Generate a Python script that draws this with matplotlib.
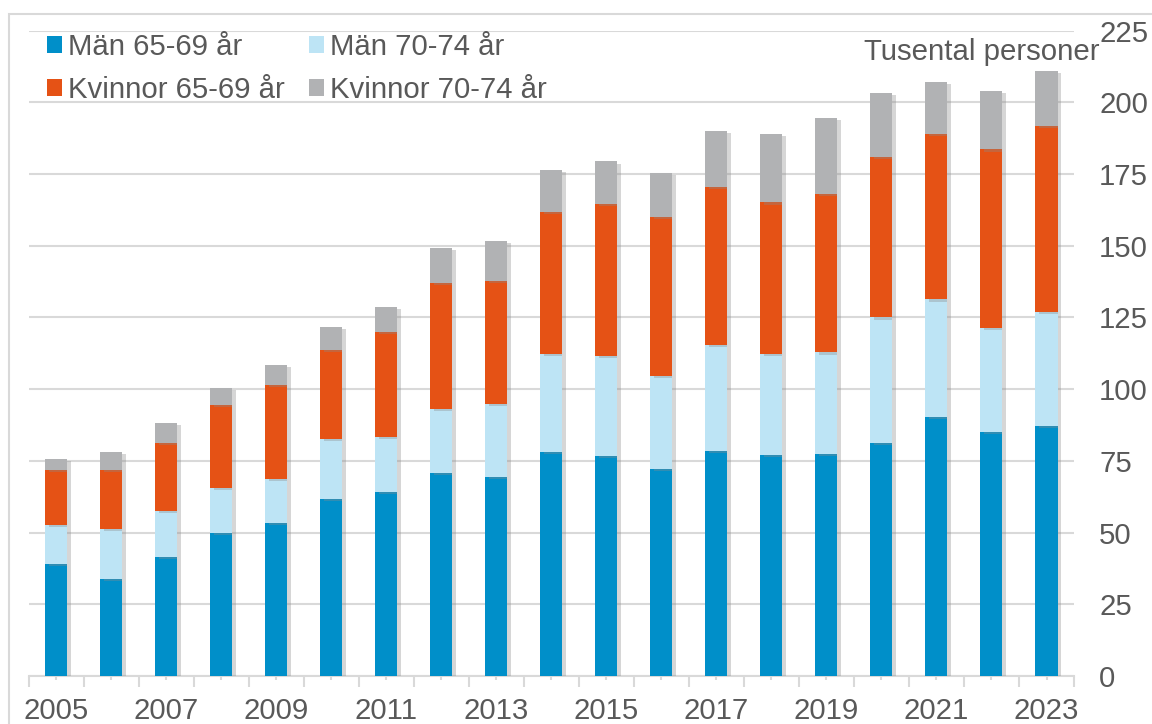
import matplotlib
matplotlib.use("Agg")
import matplotlib.pyplot as plt
import matplotlib.patheffects as pe
from matplotlib.patches import Patch
import numpy as np

years = list(range(2005, 2024))

# tusental personer
man_65_69 = [39.0, 33.8, 41.5, 49.8, 53.3, 61.6, 64.3, 70.9, 69.3, 78.1,
             76.8, 72.3, 78.6, 77.2, 77.3, 81.2, 90.2, 85.0, 87.3]
man_70_74 = [13.7, 17.5, 16.1, 15.8, 15.4, 20.9, 19.1, 22.3, 25.5, 34.3,
             34.7, 32.3, 36.9, 35.2, 35.5, 43.8, 41.1, 36.3, 39.7]
kv_65_69 = [19.0, 20.7, 23.8, 28.9, 32.7, 31.3, 36.6, 43.9, 43.0, 49.4,
            53.0, 55.5, 55.1, 52.7, 55.4, 56.1, 57.7, 62.3, 64.7]
kv_70_74 = [4.0, 6.1, 6.7, 6.0, 7.2, 7.8, 8.7, 12.2, 13.9, 14.8,
            14.9, 15.3, 19.4, 23.8, 26.3, 22.2, 18.1, 20.4, 19.3]

labels = ["Män 65-69 år", "Män 70-74 år", "Kvinnor 65-69 år", "Kvinnor 70-74 år"]
colors = ["#008FC9", "#BDE4F5", "#E55215", "#B1B2B4"]

plt.rcParams['font.family'] = ['Liberation Sans', 'DejaVu Sans']
txt_col = "#595959"
fs = 21.2

fig = plt.figure(figsize=(11.52, 7.24), dpi=100)
ax = fig.add_axes([0.0249, 0.0663, 0.9074, 0.8913])

x = np.arange(len(years))
series = [man_65_69, man_70_74, kv_65_69, kv_70_74]
bottom = np.zeros(len(years))
shadow = [pe.SimplePatchShadow(offset=(2.5, -1.5), shadow_rgbFace="#8a8a8a", alpha=0.35), pe.Normal()]
for vals, lab, col in zip(series, labels, colors):
    bars = ax.bar(x, vals, 0.4, bottom=bottom, color=col, zorder=3)
    for b in bars:
        b.set_path_effects(shadow)
    bottom += np.array(vals)

ax.set_xlim(-0.5, len(years) - 0.5)
ax.set_ylim(0, 225)
ax.yaxis.tick_right()
ax.set_yticks(np.arange(0, 226, 25))
ax.tick_params(axis='y', length=0, pad=18, labelsize=fs, labelcolor=txt_col)
ax.grid(axis='y', color="#D9D9D9", linewidth=1.5, zorder=0)
ax.set_axisbelow(True)

# category boundaries as major ticks, year labels at bar centres
ax.set_xticks(np.arange(-0.5, len(years), 1.0))
ax.set_xticklabels([])
ax.tick_params(axis='x', which='major', length=8, color="#D9D9D9", width=1.5)
ax.set_xticks(x, minor=True)
ax.set_xticklabels([str(y) if (y - 2005) % 2 == 0 else "" for y in years], minor=True)
ax.tick_params(axis='x', which='minor', length=3, color="#D9D9D9", width=1.5,
               pad=12, labelsize=fs, labelcolor=txt_col)

for s in ['top', 'left', 'right']:
    ax.spines[s].set_visible(False)
ax.spines['bottom'].set_color("#D9D9D9")
ax.spines['bottom'].set_linewidth(1.5)

# legend filled column-wise, so order the handles for two rows
order = [0, 2, 1, 3]
proxies = [Patch(facecolor=colors[i], edgecolor='none') for i in order]
fig.legend(proxies, [labels[i] for i in order],
           ncol=2, loc='upper left', bbox_to_anchor=(47 / 1152, 1 - 33 / 724),
           frameon=False, fontsize=fs, labelcolor=txt_col,
           handlelength=0.5, handleheight=0.5, handletextpad=0.2,
           columnspacing=0.85, labelspacing=0.5, borderpad=0, borderaxespad=0)

fig.text(1100 / 1152, 1 - 52 / 724, "Tusental personer", ha='right', va='center',
         fontsize=fs, color=txt_col)

# thin frame round the figure (only top and left visible)
fig.add_artist(plt.Rectangle((9 / 1152, -0.1), 1.2, 1 - 14 / 724 + 0.1,
                             transform=fig.transFigure, fill=False,
                             edgecolor="#D9D9D9", linewidth=1.5))

fig.savefig("out.png", dpi=100)
